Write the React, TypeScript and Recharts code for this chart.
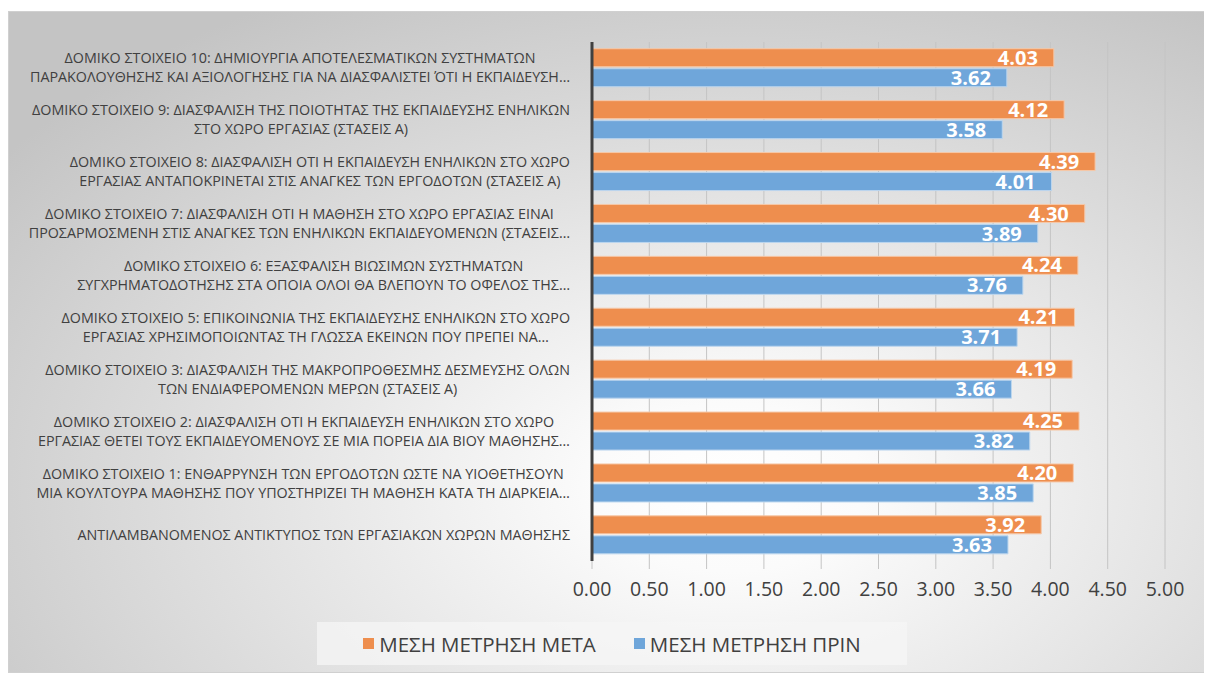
import { BarChart, Bar, XAxis, YAxis, CartesianGrid, Legend, LabelList } from "recharts";

const categories = [
  "ΔΟΜΙΚΟ ΣΤΟΙΧΕΙΟ 10: ΔΗΜΙΟΥΡΓΙΑ ΑΠΟΤΕΛΕΣΜΑΤΙΚΩΝ ΣΥΣΤΗΜΑΤΩΝ\nΠΑΡΑΚΟΛΟΥΘΗΣΗΣ ΚΑΙ ΑΞΙΟΛΟΓΗΣΗΣ ΓΙΑ ΝΑ ΔΙΑΣΦΑΛΙΣΤΕΙ ΌΤΙ Η ΕΚΠΑΙΔΕΥΣΗ…",
  "ΔΟΜΙΚΟ ΣΤΟΙΧΕΙΟ 9: ΔΙΑΣΦΑΛΙΣΗ ΤΗΣ ΠΟΙΟΤΗΤΑΣ ΤΗΣ ΕΚΠΑΙΔΕΥΣΗΣ ΕΝΗΛΙΚΩΝ\nΣΤΟ ΧΩΡΟ ΕΡΓΑΣΙΑΣ (ΣΤΑΣΕΙΣ Α)",
  "ΔΟΜΙΚΟ ΣΤΟΙΧΕΙΟ 8: ΔΙΑΣΦΑΛΙΣΗ ΟΤΙ Η ΕΚΠΑΙΔΕΥΣΗ ΕΝΗΛΙΚΩΝ ΣΤΟ ΧΩΡΟ\nΕΡΓΑΣΙΑΣ ΑΝΤΑΠΟΚΡΙΝΕΤΑΙ ΣΤΙΣ ΑΝΑΓΚΕΣ ΤΩΝ ΕΡΓΟΔΟΤΩΝ (ΣΤΑΣΕΙΣ Α)",
  "ΔΟΜΙΚΟ ΣΤΟΙΧΕΙΟ 7: ΔΙΑΣΦΑΛΙΣΗ ΟΤΙ Η ΜΑΘΗΣΗ ΣΤΟ ΧΩΡΟ ΕΡΓΑΣΙΑΣ ΕΙΝΑΙ\nΠΡΟΣΑΡΜΟΣΜΕΝΗ ΣΤΙΣ ΑΝΑΓΚΕΣ ΤΩΝ ΕΝΗΛΙΚΩΝ ΕΚΠΑΙΔΕΥΟΜΕΝΩΝ (ΣΤΑΣΕΙΣ…",
  "ΔΟΜΙΚΟ ΣΤΟΙΧΕΙΟ 6: ΕΞΑΣΦΑΛΙΣΗ ΒΙΩΣΙΜΩΝ ΣΥΣΤΗΜΑΤΩΝ\nΣΥΓΧΡΗΜΑΤΟΔΟΤΗΣΗΣ ΣΤΑ ΟΠΟΙΑ ΟΛΟΙ ΘΑ ΒΛΕΠΟΥΝ ΤΟ ΟΦΕΛΟΣ ΤΗΣ…",
  "ΔΟΜΙΚΟ ΣΤΟΙΧΕΙΟ 5: ΕΠΙΚΟΙΝΩΝΙΑ ΤΗΣ ΕΚΠΑΙΔΕΥΣΗΣ ΕΝΗΛΙΚΩΝ ΣΤΟ ΧΩΡΟ\nΕΡΓΑΣΙΑΣ ΧΡΗΣΙΜΟΠΟΙΩΝΤΑΣ ΤΗ ΓΛΩΣΣΑ ΕΚΕΙΝΩΝ ΠΟΥ ΠΡΕΠΕΙ ΝΑ…",
  "ΔΟΜΙΚΟ ΣΤΟΙΧΕΙΟ 3: ΔΙΑΣΦΑΛΙΣΗ ΤΗΣ ΜΑΚΡΟΠΡΟΘΕΣΜΗΣ ΔΕΣΜΕΥΣΗΣ ΟΛΩΝ\nΤΩΝ ΕΝΔΙΑΦΕΡΟΜΕΝΩΝ ΜΕΡΩΝ (ΣΤΑΣΕΙΣ Α)",
  "ΔΟΜΙΚΟ ΣΤΟΙΧΕΙΟ 2: ΔΙΑΣΦΑΛΙΣΗ ΟΤΙ Η ΕΚΠΑΙΔΕΥΣΗ ΕΝΗΛΙΚΩΝ ΣΤΟ ΧΩΡΟ\nΕΡΓΑΣΙΑΣ ΘΕΤΕΙ ΤΟΥΣ ΕΚΠΑΙΔΕΥΟΜΕΝΟΥΣ ΣΕ ΜΙΑ ΠΟΡΕΙΑ ΔΙΑ ΒΙΟΥ ΜΑΘΗΣΗΣ…",
  "ΔΟΜΙΚΟ ΣΤΟΙΧΕΙΟ 1: ΕΝΘΑΡΡΥΝΣΗ ΤΩΝ ΕΡΓΟΔΟΤΩΝ ΩΣΤΕ ΝΑ ΥΙΟΘΕΤΗΣΟΥΝ\nΜΙΑ ΚΟΥΛΤΟΥΡΑ ΜΑΘΗΣΗΣ ΠΟΥ ΥΠΟΣΤΗΡΙΖΕΙ ΤΗ ΜΑΘΗΣΗ ΚΑΤΑ ΤΗ ΔΙΑΡΚΕΙΑ…",
  "ΑΝΤΙΛΑΜΒΑΝΟΜΕΝΟΣ ΑΝΤΙΚΤΥΠΟΣ ΤΩΝ ΕΡΓΑΣΙΑΚΩΝ ΧΩΡΩΝ ΜΑΘΗΣΗΣ",
];

const after = [4.03, 4.12, 4.39, 4.3, 4.24, 4.21, 4.19, 4.25, 4.2, 3.92];
const before = [3.62, 3.58, 4.01, 3.89, 3.76, 3.71, 3.66, 3.82, 3.85, 3.63];

const xTicks = [0, 0.5, 1, 1.5, 2, 2.5, 3, 3.5, 4, 4.5, 5];

const seriesNames = ["ΜΕΣΗ ΜΕΤΡΗΣΗ ΜΕΤΑ", "ΜΕΣΗ ΜΕΤΡΗΣΗ ΠΡΙΝ"];
const ORANGE = "#EE8E4E";
const BLUE = "#6FA6DA";

const data = categories.map((name, i) => ({ name, after: after[i], before: before[i] }));

const FONT = "'Open Sans', 'Noto Sans', sans-serif";
const LABEL_SIZE = 14.3;

let ctx: CanvasRenderingContext2D | null = null;
function measure(s: string) {
  if (!ctx) ctx = document.createElement("canvas").getContext("2d");
  if (!ctx) return s.length * 9;
  ctx.font = `${LABEL_SIZE}px 'Open Sans'`;
  return ctx.measureText(s).width;
}

function CategoryTick({ x, y, payload }: any) {
  const lines = String(payload.value).split("\n");
  const widest = Math.max(...lines.map(measure));
  const cx = x - 14 - widest / 2;
  const lh = 19;
  const start = y - ((lines.length - 1) * lh) / 2;
  return (
    <text textAnchor="middle" fontFamily={FONT} fontSize={LABEL_SIZE} fill="#404040">
      {lines.map((l, i) => (
        <tspan key={i} x={cx} y={start + i * lh} dy="0.35em">
          {l}
        </tspan>
      ))}
    </text>
  );
}

function LegendBox() {
  const colors = [ORANGE, BLUE];
  return (
    <div
      style={{
        display: "flex",
        justifyContent: "center",
        alignItems: "center",
        gap: 38,
        height: 43,
        background: "rgba(245,245,245,0.75)",
        fontFamily: FONT,
        fontSize: 20.5,
        color: "#404040",
      }}
    >
      {seriesNames.map((n, i) => (
        <div key={n} style={{ display: "flex", alignItems: "center" }}>
          <span style={{ width: 11, height: 11, background: colors[i], marginRight: 5, display: "inline-block" }} />
          {n}
        </div>
      ))}
    </div>
  );
}

export default function App() {
  const valueLabel = {
    position: "insideRight" as const,
    offset: 16,
    fill: "#fff",
    fontSize: 20,
    fontWeight: 700,
    fontFamily: FONT,
    formatter: (v: any) => Number(v).toFixed(2),
  };
  return (
    <div
      style={{
        width: 1204,
        height: 662,
        marginTop: 3,
        border: "1px solid #d0d0d0",
        boxSizing: "border-box",
        background: "radial-gradient(ellipse 75% 85% at 60% 72%, #ffffff 0%, #fbfbfb 15%, #c4c4c4 100%)",
      }}
    >
      <BarChart
        width={1202}
        height={660}
        data={data}
        layout="vertical"
        margin={{ top: 30, right: 46, bottom: 10, left: 0 }}
        barCategoryGap="13%"
        barGap={2}
      >
        <CartesianGrid horizontal={false} stroke="#c4c4c4" />
        <XAxis
          type="number"
          domain={[0, 5]}
          ticks={xTicks}
          tickFormatter={(v) => Number(v).toFixed(2)}
          axisLine={false}
          tickLine={{ stroke: "#c4c4c4" }}
          tickSize={8}
          tick={{ fill: "#404040", fontSize: 19.5, fontFamily: FONT, dy: 11 }}
          height={58}
        />
        <YAxis
          type="category"
          dataKey="name"
          width={583}
          tick={<CategoryTick />}
          tickLine={false}
          axisLine={{ stroke: "#404040", strokeWidth: 3 }}
          interval={0}
        />
        <Legend
          verticalAlign="bottom"
          content={<LegendBox />}
          wrapperStyle={{ left: 308, width: 590, top: 610, bottom: "auto" }}
        />
        <Bar dataKey="after" name={seriesNames[0]} fill={ORANGE} stroke="#f6c8a8" strokeWidth={1} isAnimationActive={false}>
          <LabelList dataKey="after" {...valueLabel} />
        </Bar>
        <Bar dataKey="before" name={seriesNames[1]} fill={BLUE} stroke="#bcd6ee" strokeWidth={1} isAnimationActive={false}>
          <LabelList dataKey="before" {...valueLabel} />
        </Bar>
      </BarChart>
    </div>
  );
}
